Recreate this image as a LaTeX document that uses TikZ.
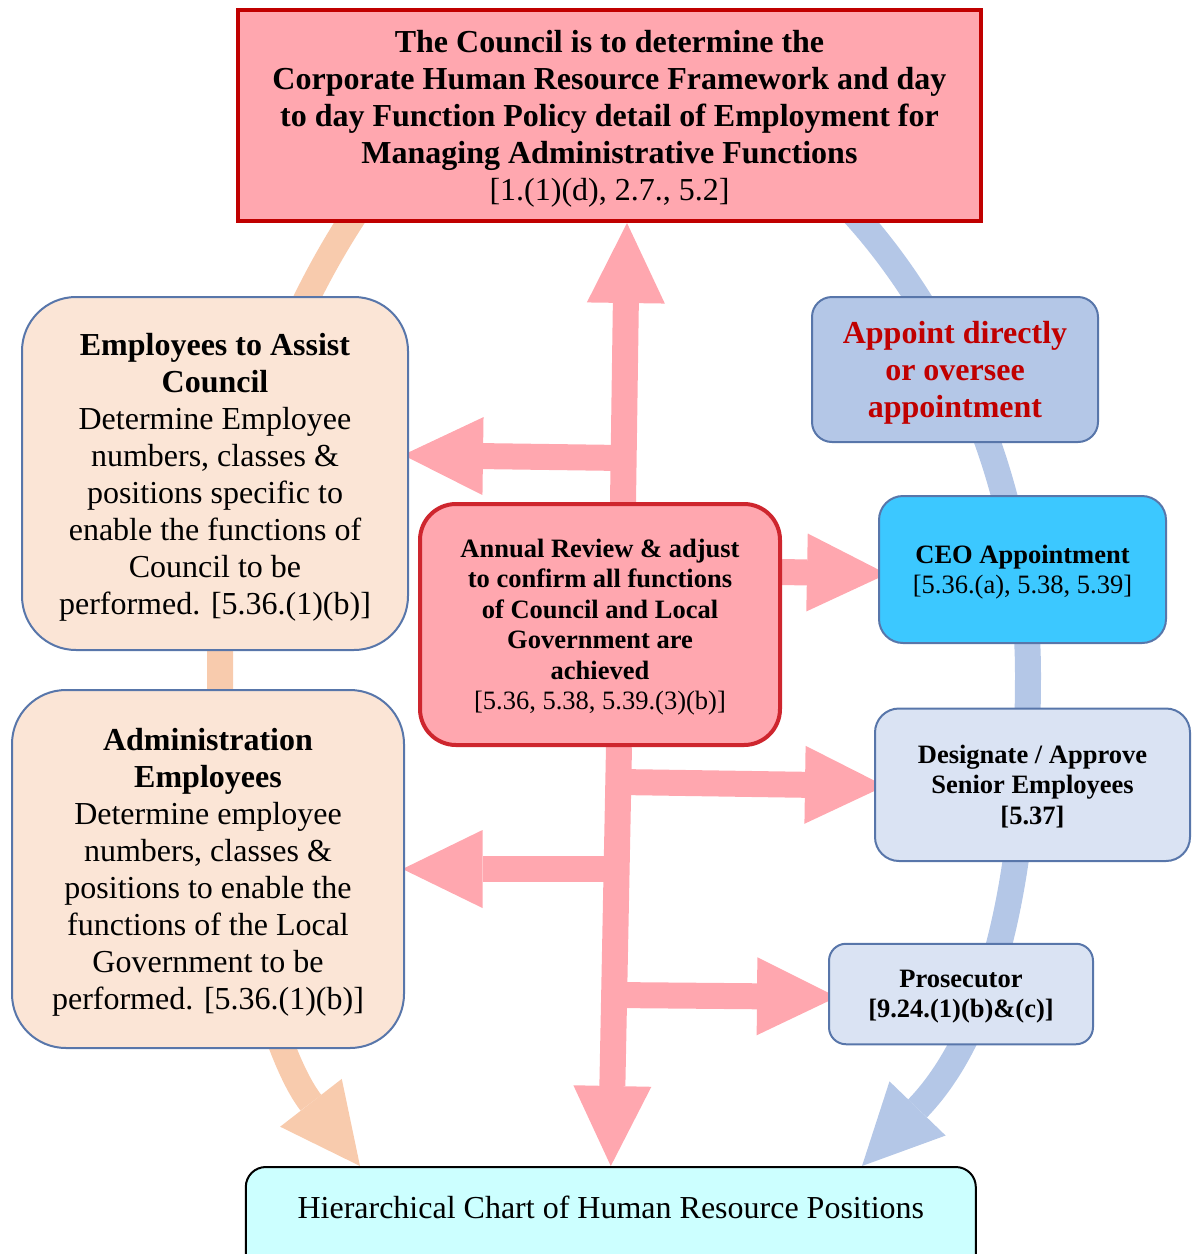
\documentclass[tikz,border=0pt]{standalone}
\usepackage{fontspec}
\setmainfont{Liberation Serif}
\usetikzlibrary{arrows.meta}
\usetikzlibrary{backgrounds}
\definecolor{pinkfill}{RGB}{255,167,175}
\definecolor{councilline}{RGB}{192,0,0}
\definecolor{reviewline}{RGB}{206,38,46}
\definecolor{peachfill}{RGB}{251,229,214}
\definecolor{boxline}{RGB}{88,118,170}
\definecolor{orangearc}{RGB}{248,203,173}
\definecolor{bluearc}{RGB}{180,199,231}
\definecolor{ceofill}{RGB}{60,200,255}
\definecolor{paleblue}{RGB}{218,227,243}
\definecolor{chartfill}{RGB}{204,255,255}
\definecolor{appointred}{RGB}{192,0,0}
\tikzset{
  bigtext/.style={font=\fontsize{16}{18.5}\selectfont},
  smalltext/.style={font=\fontsize{13.25}{15.25}\selectfont},
  hrbox/.style={draw=boxline, line width=1pt, align=center, inner sep=0pt, text depth=-1.5pt},
  widearrow/.style={line width=13pt, -{Triangle[length=40pt,width=39pt,line width=0pt]}},
}
\begin{document}
\begin{tikzpicture}[x=0.5pt,y=0.5pt,yscale=-1,xscale=1]
\useasboundingbox (0,0) rectangle (1192,1254);
\clip (0,0) rectangle (1192,1254);
\node [hrbox, bigtext, draw=councilline, line width=2pt, fill=pinkfill, minimum width=371.5pt, minimum height=105.5pt] (council) at (609.5,115.5) {\textbf{The Council is to determine the}\\ \textbf{Corporate Human Resource Framework and day}\\ \textbf{to day Function Policy detail of Employment for}\\ \textbf{Managing Administrative Functions}\\ {[1.(1)(d), 2.7., 5.2]}};
\node [hrbox, bigtext, fill=peachfill, rounded corners=27pt, minimum width=193pt, minimum height=176.5pt, outer xsep=-2.5pt] (assist) at (215,473.5) {\textbf{Employees to Assist}\\ \textbf{Council}\\ Determine Employee\\ numbers, classes \&\\ positions specific to\\ enable the functions of\\ Council to be\\ performed. [5.36.(1)(b)]};
\node [hrbox, bigtext, fill=peachfill, rounded corners=27pt, minimum width=196pt, minimum height=179pt, outer xsep=-0.75pt] (admin) at (208,869) {\textbf{Administration}\\ \textbf{Employees}\\ Determine employee\\ numbers, classes \&\\ positions to enable the\\ functions of the Local\\ Government to be\\ performed. [5.36.(1)(b)]};
\node [hrbox, smalltext, draw=reviewline, line width=2pt, fill=pinkfill, rounded corners=18pt, minimum width=180pt, minimum height=120.5pt] (review) at (600,624.5) {\textbf{Annual Review \& adjust}\\ \textbf{to confirm all functions}\\ \textbf{of Council and Local}\\ \textbf{Government are}\\ \textbf{achieved}\\ {[5.36, 5.38, 5.39.(3)(b)]}};
\node [hrbox, bigtext, fill=bluearc, text=appointred, rounded corners=10pt, minimum width=143pt, minimum height=72.5pt] (appoint) at (955,369.5) {\textbf{Appoint directly}\\ \textbf{or oversee}\\ \textbf{appointment}};
\node [hrbox, smalltext, fill=ceofill, rounded corners=12pt, minimum width=143.5pt, minimum height=73.5pt, outer xsep=-4pt] (ceo) at (1022.5,569.5) {\textbf{CEO Appointment}\\ {[5.36.(a), 5.38, 5.39]}};
\node [hrbox, smalltext, fill=paleblue, rounded corners=12pt, minimum width=157.5pt, minimum height=76.25pt, outer xsep=-5pt] (senior) at (1032.5,784.75) {\textbf{Designate / Approve}\\ \textbf{Senior Employees}\\ \textbf{[5.37]}};
\node [hrbox, smalltext, fill=paleblue, rounded corners=8.5pt, minimum width=132pt, minimum height=50.25pt, outer xsep=-4pt] (prosecutor) at (961,994) {\textbf{Prosecutor}\\ \textbf{[9.24.(1)(b)\&(c)]}};
\node [hrbox, bigtext, draw=black, fill=chartfill, rounded corners=10pt, minimum width=365pt, anchor=north, text height=12pt, text depth=40pt, inner ysep=13.5pt] (chart) at (610.8,1166) {Hierarchical Chart of Human Resource Positions};
\begin{pgfonlayer}{background}
\coordinate (orangetop) at (364.5,200);
\coordinate (bluetop) at (839,198);
\coordinate (rootA) at (623,458);
\coordinate (rootB) at (620,782);
\coordinate (rootC) at (617,869);
\coordinate (rootD) at (614,995);
\draw [widearrow, orangearc] (orangetop) .. controls (285,315) and (220,480) .. (220,670) .. controls (220,860) and (270,1050) .. (chart.north -| 360,0);
\draw [widearrow, bluearc] (bluetop) .. controls (935,295) and (1028,470) .. (1028,675) .. controls (1028,850) and (1000,1023) .. (chart.north -| 862,0);
\draw [widearrow, pinkfill] (review.north -| 623,0) -- (council.south -| 627,0);
\draw [widearrow, pinkfill] (rootA) -- (assist.east |- 0,455);
\draw [widearrow, pinkfill] (review.east |- 0,572) -- (ceo.west |- 0,574);
\draw [widearrow, pinkfill] (review.south -| 619,0) -- (chart.north);
\draw [widearrow, pinkfill] (rootB) -- (senior.west |- 0,786);
\draw [widearrow, pinkfill] (rootC) -- (admin.east |- 0,869);
\draw [widearrow, pinkfill] (rootD) -- (prosecutor.west |- 0,997);
\end{pgfonlayer}
\end{tikzpicture}
\end{document}
